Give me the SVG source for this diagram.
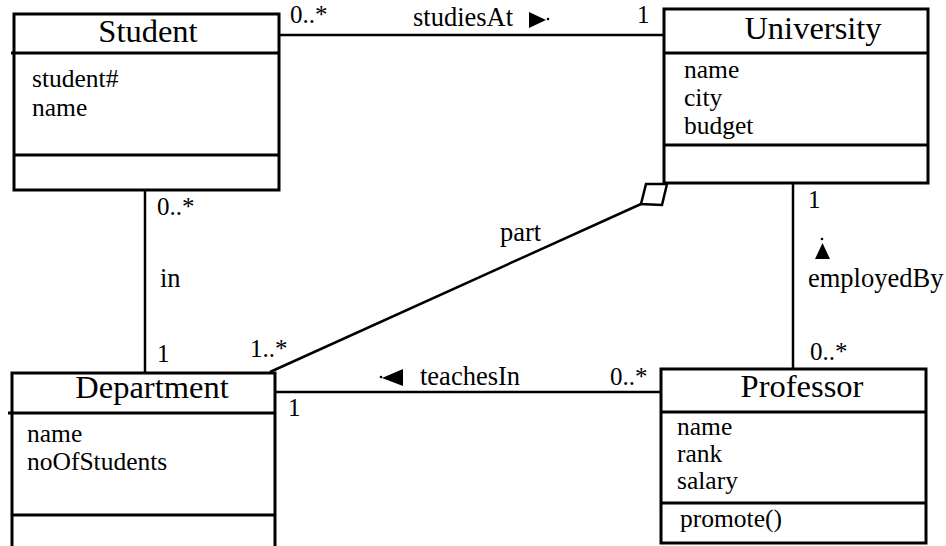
<svg xmlns="http://www.w3.org/2000/svg" width="946" height="546" viewBox="0 0 946 546">
<style>
.box{fill:#fff;stroke:#000;stroke-width:3}
.ln{stroke:#000;stroke-width:3;fill:none}
.cn{stroke:#000;stroke-width:2.5;fill:none}
text{font-family:"Liberation Serif","Times New Roman",serif;fill:#000}
.t{font-size:32.5px;text-anchor:middle}
.a{font-size:25.5px}
.l{font-size:26.5px}
.m{font-size:25px}
</style>
<rect width="946" height="546" fill="#fff"/>
<g id="connectors">
<line class="cn" x1="275" y1="35" x2="664" y2="35"/>
<line class="cn" x1="145" y1="187" x2="145" y2="373"/>
<line class="cn" x1="273" y1="392" x2="661" y2="392"/>
<line class="cn" x1="793" y1="182" x2="793" y2="369"/>
<line class="cn" x1="641" y1="204" x2="270" y2="372"/>
<polygon class="cn" points="641,204 646,184 667,184 662,205" fill="#fff"/>
<polygon points="529,12 529,28 546,20" fill="#000"/>
<circle cx="548" cy="19" r="1.3" fill="#000"/>
<polygon points="382,378 403,369 403,386" fill="#000"/>
<circle cx="381" cy="377" r="1.3" fill="#000"/>
<polygon points="815,259 830,259 822.5,243" fill="#000"/>
<circle cx="822" cy="239" r="1.3" fill="#000"/>
<text class="m" x="290" y="23">0..*</text>
<text class="m" x="637" y="23">1</text>
<text class="l" x="413" y="26">studiesAt</text>
<text class="m" x="157" y="215">0..*</text>
<text class="l" x="160" y="287">in</text>
<text class="m" x="157" y="362">1</text>
<text class="m" x="250" y="357">1..*</text>
<text class="l" x="500" y="241">part</text>
<text class="m" x="288" y="416">1</text>
<text class="l" x="420" y="385">teachesIn</text>
<text class="m" x="610" y="385">0..*</text>
<text class="m" x="808" y="208">1</text>
<text class="l" x="808" y="287">employedBy</text>
<text class="m" x="810" y="360">0..*</text>
</g>
<g id="student">
<rect class="box" x="14" y="14" width="265" height="176"/>
<line class="ln" x1="11" y1="53" x2="279" y2="53"/>
<line class="ln" x1="14" y1="155" x2="279" y2="155"/>
<text class="t" x="148" y="42">Student</text>
<text class="a" x="32" y="87">student#</text>
<text class="a" x="32" y="116">name</text>
</g>
<g id="university">
<rect class="box" x="664" y="9" width="264" height="174"/>
<line class="ln" x1="664" y1="53" x2="928" y2="53"/>
<line class="ln" x1="664" y1="145" x2="928" y2="145"/>
<text class="t" x="813" y="39">University</text>
<text class="a" x="684" y="78">name</text>
<text class="a" x="684" y="106">city</text>
<text class="a" x="684" y="134">budget</text>
</g>
<g id="department">
<rect class="box" x="12" y="373" width="263" height="190"/>
<line class="ln" x1="8" y1="413" x2="275" y2="413"/>
<line class="ln" x1="12" y1="515" x2="275" y2="515"/>
<text class="t" x="152" y="398">Department</text>
<text class="a" x="27" y="442">name</text>
<text class="a" x="27" y="470">noOfStudents</text>
</g>
<g id="professor">
<rect class="box" x="661" y="369" width="265" height="174"/>
<line class="ln" x1="661" y1="412" x2="926" y2="412"/>
<line class="ln" x1="661" y1="503" x2="926" y2="503"/>
<text class="t" x="802" y="397">Professor</text>
<text class="a" x="677" y="435">name</text>
<text class="a" x="677" y="462">rank</text>
<text class="a" x="677" y="489">salary</text>
<text class="a" x="680" y="527">promote()</text>
</g>
</svg>
